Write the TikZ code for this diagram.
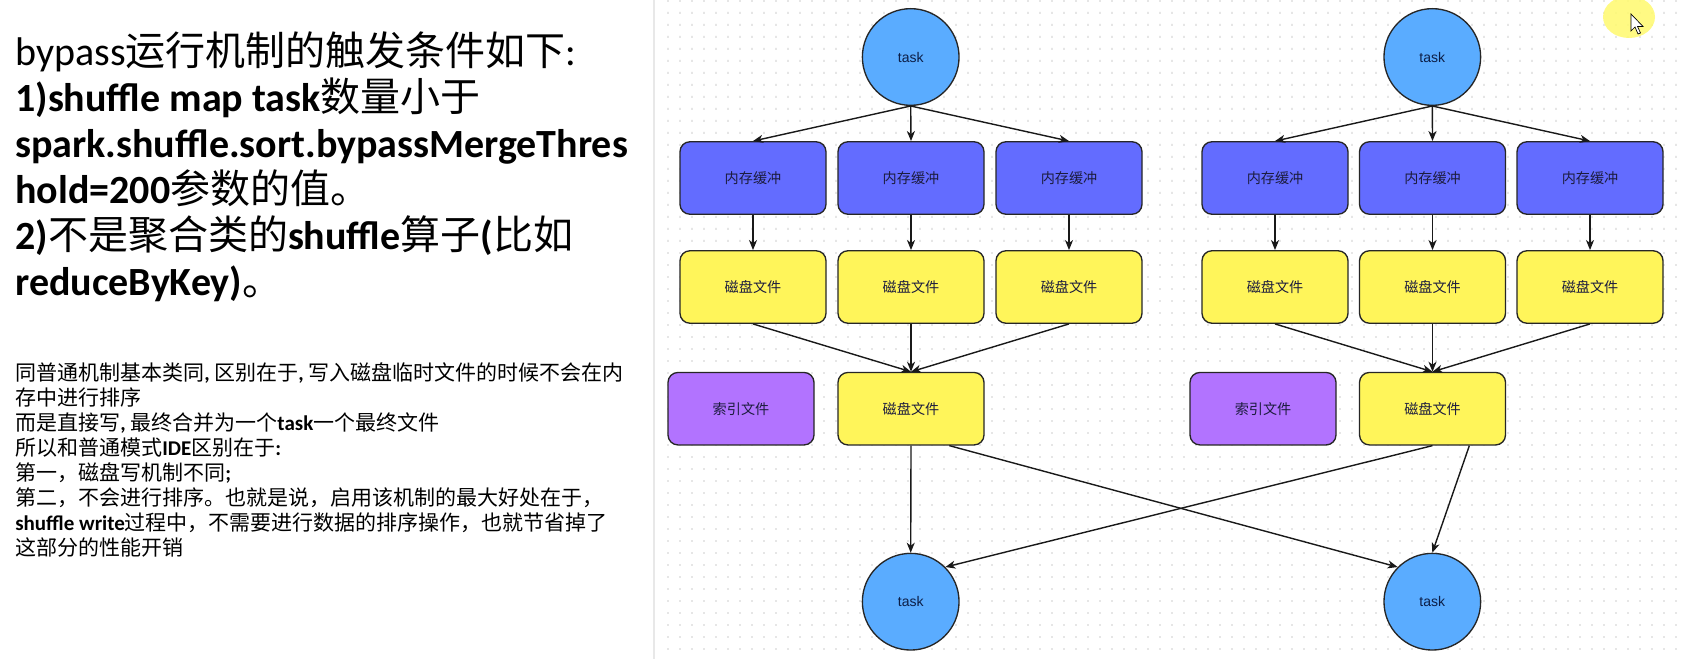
\documentclass[tikz,border=0pt]{standalone}
\usepackage{fontspec}
\setmainfont{Carlito}
\newfontfamily\cjk{Noto Sans CJK SC}
\newfontfamily\helv{Liberation Sans}
\newcommand\zh[1]{{\cjk\mdseries #1}}
\usetikzlibrary{arrows.meta,calc}
\definecolor{circc}{RGB}{90,172,255}
\definecolor{memc}{RGB}{99,108,255}
\definecolor{diskc}{RGB}{255,245,90}
\definecolor{idxc}{RGB}{178,115,255}
\definecolor{boxtext}{RGB}{28,28,62}
\definecolor{tasktext}{RGB}{12,30,70}
\definecolor{dotc}{RGB}{230,230,230}
\definecolor{divc}{RGB}{232,232,232}
\definecolor{hilite}{RGB}{255,250,110}
\tikzset{
  taskc/.style={circle, minimum size=72.5pt, inner sep=0pt, fill=circc, draw=black!85, line width=1pt,
    font=\helv\fontsize{10.5}{12}\selectfont, text=tasktext},
  boxbase/.style={rectangle, rounded corners=7.5pt, minimum width=109.5pt, minimum height=54.4pt,
    inner sep=0pt, draw=black!85, line width=1pt, font=\cjk\fontsize{10.6}{12}\selectfont, text=boxtext},
  membox/.style={boxbase, fill=memc},
  diskbox/.style={boxbase, fill=diskc},
  idxbox/.style={boxbase, fill=idxc},
  conn/.style={line width=1.05pt, draw=black!90, -{Stealth[length=7.5pt,width=6pt,inset=2.2pt]}},
  bigtxt/.style={anchor=base west, inner sep=0pt, font=\fontsize{30}{36}\selectfont},
  smalltxt/.style={anchor=base west, inner sep=0pt, font=\bfseries\fontsize{15.75}{19}\selectfont},
}
\begin{document}
\begin{tikzpicture}[x=0.75pt,y=-0.75pt]
\useasboundingbox (0,0) rectangle (1683,659);
\fill[white] (0,0) rectangle (1683,659);
% dotted grid of the drawing panel
\fill[dotc] \foreach \i in {0,...,84} {\foreach \j in {0,...,54} {(667+12*\i,12*\j) rectangle ++(1.8,1.8)}};
\draw[divc, line width=1.6pt] (654,0) -- (654,659);

% left text
\node[bigtxt] (t1) at (15,65.5) {bypass\zh{运行机制的触发条件如下}:};
\node[bigtxt] (t2) at (15,111.5) {{\bfseries 1)shuffle map task}\zh{数量小于}};
\node[bigtxt] (t3) at (15,157.5) {\bfseries spark.shuffle.sort.bypassMergeThres};
\node[bigtxt] (t4) at (15,203.5) {{\bfseries hold=200}\zh{参数的值。}};
\node[bigtxt] (t5) at (15,249.5) {{\bfseries 2)}\zh{不是聚合类的}{\bfseries shuffle}\zh{算子}{\bfseries (}\zh{比如}};
\node[bigtxt] (t6) at (15,295.5) {{\bfseries reduceByKey)}\zh{。}};

\node[smalltxt] (s1) at (15,380) {\zh{同普通机制基本类同}, \zh{区别在于}, \zh{写入磁盘临时文件的时候不会在内}};
\node[smalltxt] (s2) at (15,405) {\zh{存中进行排序}};
\node[smalltxt] (s3) at (15,430) {\zh{而是直接写}, \zh{最终合并为一个}task\zh{一个最终文件}};
\node[smalltxt] (s4) at (15,455) {\zh{所以和普通模式}IDE\zh{区别在于}:};
\node[smalltxt] (s5) at (15,480) {\zh{第一，磁盘写机制不同};};
\node[smalltxt] (s6) at (15,505) {\zh{第二，不会进行排序。也就是说，启用该机制的最大好处在于，}};
\node[smalltxt] (s7) at (15,530) {shuffle write\zh{过程中，不需要进行数据的排序操作，也就节省掉了}};
\node[smalltxt] (s8) at (15,555) {\zh{这部分的性能开销}};

% left diagram
\node[taskc] (tA) at (910.7,57) {task};
\node[membox] (mA1) at (753,178) {内存缓冲};
\node[membox] (mA2) at (911,178) {内存缓冲};
\node[membox] (mA3) at (1069,178) {内存缓冲};
\node[diskbox] (dA1) at (753,287) {磁盘文件};
\node[diskbox] (dA2) at (911,287) {磁盘文件};
\node[diskbox] (dA3) at (1069,287) {磁盘文件};
\node[idxbox] (iA) at (741,408.7) {索引文件};
\node[diskbox] (fA) at (911,408.7) {磁盘文件};
\node[taskc] (rA) at (910.7,601.7) {task};

% right diagram
\node[taskc] (tB) at (1432.3,57) {task};
\node[membox] (mB1) at (1275,178) {内存缓冲};
\node[membox] (mB2) at (1432.5,178) {内存缓冲};
\node[membox] (mB3) at (1590,178) {内存缓冲};
\node[diskbox] (dB1) at (1275,287) {磁盘文件};
\node[diskbox] (dB2) at (1432.5,287) {磁盘文件};
\node[diskbox] (dB3) at (1590,287) {磁盘文件};
\node[idxbox] (iB) at (1263,408.7) {索引文件};
\node[diskbox] (fB) at (1432.5,408.7) {磁盘文件};
\node[taskc] (rB) at (1432.3,601.7) {task};

% connectors
\foreach \g in {A,B}{
  \foreach \k in {1,2,3}{
    \draw[conn] (t\g.south) -- (m\g\k.north);
    \draw[conn] (m\g\k.south) -- (d\g\k.north);
    \draw[conn] (d\g\k.south) -- (f\g.north);
  }
}
\coordinate (fAo) at ($(fA.south west)!0.76!(fA.south east)$);
\coordinate (fBo) at ($(fB.south west)!0.75!(fB.south east)$);
\draw[conn] (fA.south) -- (rA.north);
\draw[conn] (fAo) -- (rB.135);
\draw[conn] (fB.south) -- (rA.45);
\draw[conn] (fBo) -- (rB.north);

% cursor highlight
\fill[hilite, opacity=0.85] (1629,17) ellipse [x radius=26, y radius=21];
\coordinate (cur) at (1631,14);
\filldraw[fill=white, draw=black, line width=0.5pt] (cur) -- ++(0,17) -- ++(4,-4) -- ++(3,7) -- ++(2.5,-1) -- ++(-3,-6.5) -- ++(5.5,0) -- cycle;
\end{tikzpicture}
\end{document}
